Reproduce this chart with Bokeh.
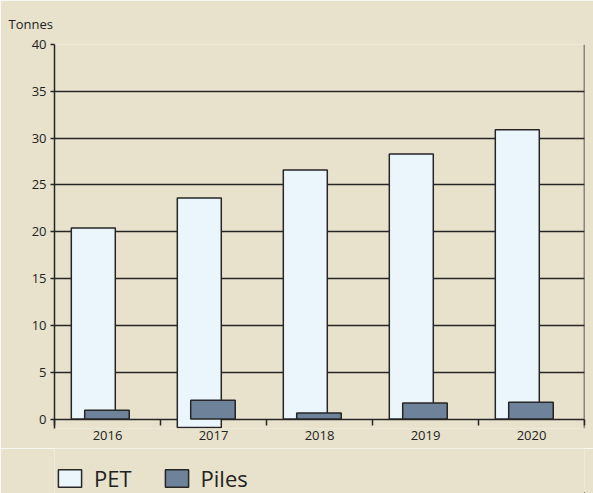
from bokeh.plotting import figure
from bokeh.layouts import column
from bokeh.models import ColumnDataSource, FixedTicker, Range1d, Span, Legend, LegendItem
from bokeh.transform import dodge
from bokeh.embed import file_html
from bokeh.resources import INLINE

years = ["2016", "2017", "2018", "2019", "2020"]
pet = [20.4, 23.6, 26.6, 28.3, 30.9]
pet_base = [0, -0.9, 0, 0, 0]
piles = [0.95, 2.0, 0.65, 1.7, 1.8]
y_ticks = [0, 5, 10, 15, 20, 25, 30, 35, 40]
series = ["PET", "Piles"]

BG = "#e8e2cc"
LINE = "#262626"
FONT = "Open Sans"
PET_FILL = "#ebf5fc"
PIL_FILL = "#6e8299"

xc = [i + 0.5 for i in range(len(years))]
src = ColumnDataSource(dict(x=xc, pet=pet, base=pet_base, piles=piles, zero=[0] * len(years)))

p = figure(width=593, height=448, output_backend="svg", toolbar_location=None,
           x_range=Range1d(0, len(years)), y_range=Range1d(-1.01, 40),
           min_border_left=54, min_border_right=9, min_border_top=44, min_border_bottom=20,
           background_fill_color=BG, border_fill_color=BG, outline_line_color=None)

p.vbar(x=dodge("x", -0.134), width=0.415, top="pet", bottom="base", source=src,
       fill_color=PET_FILL, line_color=LINE, line_width=1.5)
p.vbar(x=dodge("x", -0.005), width=0.42, top="piles", bottom="zero", source=src,
       fill_color=PIL_FILL, line_color=LINE, line_width=1.5)

# x axis (baseline line comes from the grid line at 0)
xa = p.xaxis[0]
xa.ticker = FixedTicker(ticks=xc, minor_ticks=list(range(len(years) + 1)))
xa.major_label_overrides = {x: y for x, y in zip(xc, years)}
xa.major_tick_out = 0
xa.major_tick_in = 0
xa.minor_tick_in = 9
xa.minor_tick_out = -3
xa.minor_tick_line_color = LINE
xa.minor_tick_line_width = 1.5
xa.axis_line_color = None
xa.major_label_standoff = 2
xa.major_label_text_font = FONT
xa.major_label_text_font_size = "13px"
xa.major_label_text_color = "#222222"

ya = p.yaxis[0]
ya.ticker = FixedTicker(ticks=y_ticks)
ya.major_tick_out = 4
ya.major_tick_in = 0
ya.minor_tick_line_color = None
ya.major_tick_line_color = LINE
ya.major_tick_line_width = 1.5
ya.axis_line_color = LINE
ya.axis_line_width = 1.5
ya.major_label_standoff = 4
ya.major_label_text_font = FONT
ya.major_label_text_font_size = "13px"
ya.major_label_text_color = "#222222"

p.xgrid.grid_line_color = None
p.ygrid.ticker = FixedTicker(ticks=y_ticks)
p.ygrid.grid_line_color = LINE
p.ygrid.grid_line_width = 1.5

p.add_layout(Span(location=len(years), dimension="height", line_color=LINE, line_width=1.5))

# title
p.title.text = "Tonnes"
p.title.align = "left"
p.title.vertical_align = "top"
p.title.offset = -46
p.title.text_font = FONT
p.title.text_font_size = "13px"
p.title.text_font_style = "normal"
p.title.text_color = "#222222"
p.title.standoff = 19

# legend strip below the chart (its bars fall outside its own ranges, only the legend shows)
lg = figure(width=593, height=45, output_backend="svg", toolbar_location=None,
            x_range=Range1d(-101, -100), y_range=Range1d(100, 101),
            x_axis_location=None, y_axis_location=None, min_border=0,
            background_fill_color=BG, border_fill_color=BG, outline_line_color=None)
lg.grid.visible = False
k_pet = lg.vbar(x="x", top="pet", bottom="base", width=0.4, source=src,
                fill_color=PET_FILL, line_color=LINE, line_width=1.5)
k_pil = lg.vbar(x="x", top="piles", bottom="zero", width=0.4, source=src,
                fill_color=PIL_FILL, line_color=LINE, line_width=1.5)
legend = Legend(items=[LegendItem(label=series[0], renderers=[k_pet]),
                       LegendItem(label=series[1], renderers=[k_pil])],
                orientation="horizontal", location=(1, -2), padding=0, margin=0,
                spacing=30, label_standoff=10, glyph_width=29, glyph_height=22,
                label_height=34, label_text_baseline="alphabetic",
                label_text_font=FONT, label_text_font_size="22px", label_text_color="#222222",
                background_fill_alpha=0, border_line_color=None)
lg.add_layout(legend)

open("out.html", "w").write(file_html(column(p, lg, spacing=0), INLINE))
